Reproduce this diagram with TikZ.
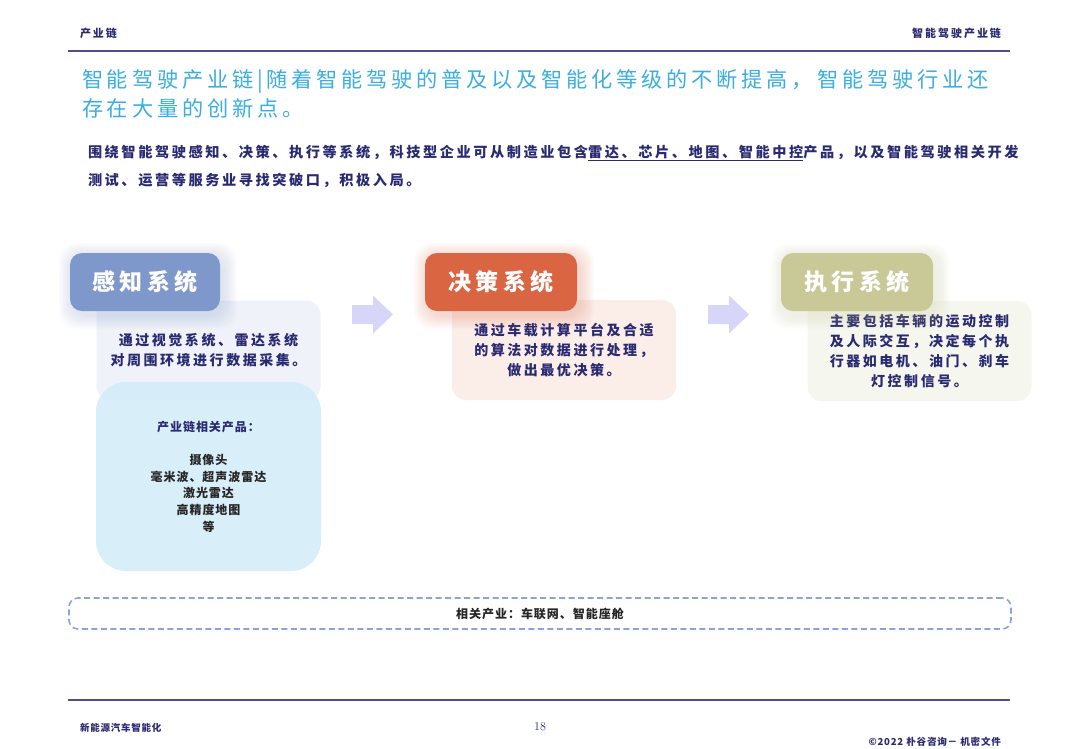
\documentclass[tikz,border=0pt]{standalone}
\usepackage{fontspec}
\newfontfamily\cj{Noto Sans CJK SC}[LetterSpace=18]
\newfontfamily\cjs{Noto Sans CJK SC}[LetterSpace=8]
\definecolor{navy}{HTML}{2A2A72}
\definecolor{rulec}{HTML}{4E4D8E}
\definecolor{titlecyan}{HTML}{3AAEE2}
\definecolor{cA}{HTML}{7F98CC}
\definecolor{cB}{HTML}{D96542}
\definecolor{cC}{HTML}{C9C998}
\definecolor{dA}{HTML}{EFF2F8}
\definecolor{dB}{HTML}{FBEDE8}
\definecolor{dC}{HTML}{F5F6EE}
\definecolor{prodc}{HTML}{D3ECF9}
\definecolor{arrc}{HTML}{D8D6F8}
\definecolor{dashc}{HTML}{8EA2D8}
\newcommand\cardglow[5]{%
  \foreach \k in {1,...,10}{%
    \fill[#5, opacity=0.022, rounded corners=18pt]
      ({#1-#3/2-1.4*\k+3},{#2-#4/2-1.4*\k+4}) rectangle ({#1+#3/2+1.4*\k+3},{#2+#4/2+1.4*\k+4});
  }}
\begin{document}
\begin{tikzpicture}[x=1pt,y=-1pt,
  every node/.style={inner sep=0pt, outer sep=0pt},
  hdr/.style={text=navy, font=\cj\fontsize{11}{13}\selectfont\bfseries},
  cardtitle/.style={rounded corners=12pt, minimum width=152pt, minimum height=58pt, text=white, font=\cj\fontsize{23}{26}\selectfont\bfseries},
  descbox/.style={rounded corners=14pt, minimum width=224pt, minimum height=100pt, align=center, text=navy, font=\cj\fontsize{14}{20}\selectfont\bfseries},
  blockarrow/.style={fill=arrc},
  ruleline/.style={draw=rulec, line width=1.6pt}
]
\useasboundingbox (0,0) rectangle (1080,748);
\fill[white] (0,0) rectangle (1080,748);

% header
\node[hdr, anchor=base west] (hl) at (80,37) {产业链};
\node[hdr, anchor=base east] (hr) at (1001,37) {智能驾驶产业链};
\coordinate (h1) at (68,51);
\coordinate (h2) at (1010,51);
\draw[ruleline] (h1) -- (h2);

% title
\node[anchor=base west, text=titlecyan, font=\cj\fontsize{21.2}{28}\selectfont] (t1) at (82,87.5)
  {智能驾驶产业链|随着智能驾驶的普及以及智能化等级的不断提高，智能驾驶行业还};
\node[anchor=base west, text=titlecyan, font=\cj\fontsize{21.2}{28}\selectfont] (t2) at (82,116.5)
  {存在大量的创新点。};

% paragraph
\node[anchor=base west, text=navy, font=\cj\fontsize{14.2}{20}\selectfont\bfseries] (p1) at (88,157.3)
  {围绕智能驾驶感知、决策、执行等系统，科技型企业可从制造业包含\underline{雷达、芯片、地图、智能中控}产品，以及智能驾驶相关开发};
\node[anchor=base west, text=navy, font=\cj\fontsize{14.2}{20}\selectfont\bfseries] (p2) at (88,185.3)
  {测试、运营等服务业寻找突破口，积极入局。};

% card A
\node[descbox, fill=dA] (dA) at (208.5,350.5) {通过视觉系统、雷达系统\\对周围环境进行数据采集。};
\node[rounded corners=30pt, minimum width=225pt, minimum height=189pt, fill=prodc, fill opacity=0.88,
      text opacity=1, align=center, font=\cjs\fontsize{12}{16.7}\selectfont\bfseries, text=black!85] (prod) at (208.5,476.5)
  {\textcolor{navy}{产业链相关产品：}\\[16.7pt]摄像头\\毫米波、超声波雷达\\激光雷达\\高精度地图\\等};
\cardglow{145}{282}{150}{58}{cA}
\node[cardtitle, fill=cA, minimum width=150pt] (tA) at (145,282) {感知系统};

% arrow 1
\fill[blockarrow] (352,305) -- (373,305) -- (373,295.5) -- (393,314.5) -- (373,333.5) -- (373,324) -- (352,324) -- cycle;

% card B
\node[descbox, fill=dB] (dB) at (564,350) {通过车载计算平台及合适\\的算法对数据进行处理，\\做出最优决策。};
\cardglow{501}{282}{152}{58}{cB}
\node[cardtitle, fill=cB] (tB) at (501,282) {决策系统};

% arrow 2
\fill[blockarrow] (708,305) -- (729,305) -- (729,295.5) -- (749,314.5) -- (729,333.5) -- (729,324) -- (708,324) -- cycle;

% card C
\node[descbox, fill=dC] (dC) at (919.5,351) {主要包括车辆的运动控制\\及人际交互，决定每个执\\行器如电机、油门、刹车\\灯控制信号。};
\cardglow{857}{282}{152}{58}{cC}
\node[cardtitle, fill=cC] (tC) at (857,282) {执行系统};

% related industries
\node[draw=dashc, dash pattern=on 6pt off 3.5pt, line width=1.6pt, rounded corners=9pt,
      minimum width=942pt, minimum height=31pt, text=black!85,
      font=\cjs\fontsize{12}{14}\selectfont\bfseries] (rel) at (540,613.5) {相关产业：车联网、智能座舱};

% footer
\coordinate (f1) at (68,700);
\coordinate (f2) at (1010,700);
\draw[ruleline] (f1) -- (f2);
\node[anchor=base west, text=navy, font=\cjs\fontsize{9.5}{12}\selectfont\bfseries] (fl) at (80,731.5) {新能源汽车智能化};
\node[anchor=base, text=navy, font=\fontsize{12}{14}\selectfont] (pg) at (540,730.5) {18};
\node[anchor=base east, text=navy, font=\cjs\fontsize{9.6}{11}\selectfont\bfseries] (fr) at (1001,745.5) {©2022 朴谷咨询－ 机密文件};
\end{tikzpicture}
\end{document}
